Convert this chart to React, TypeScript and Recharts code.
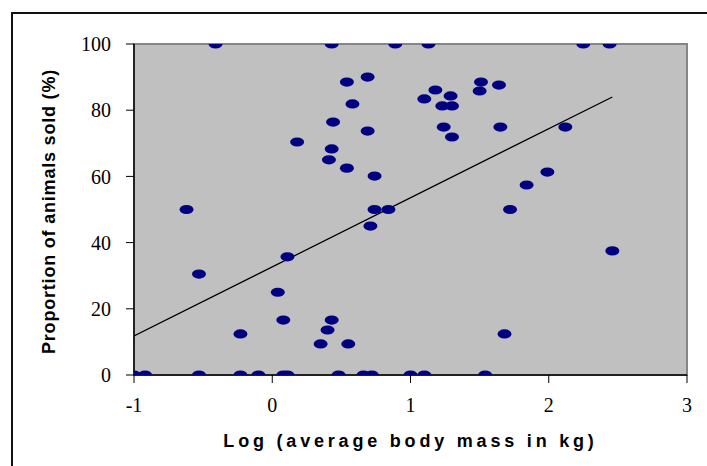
import React from 'react';
import {
  ScatterChart,
  Scatter,
  XAxis,
  YAxis,
  ReferenceArea,
} from 'recharts';

// log10 of average body mass (kg) for each animal group
const logMass = [
  -1.0, -0.92, -0.53, -0.23, -0.1, 0.08, 0.11, 0.48, 0.66, 0.72, 1.0, 1.1, 1.54,
  -0.53, 0.04, -0.23, 0.08, 0.11, 0.43, 0.4, 0.35, 0.55, 1.68, 2.46,
  -0.41, 0.43, -0.62, 0.18, 0.43, 0.41, 0.54, 0.44, 0.54, 0.58,
  0.89, 1.13, 2.25, 2.44, 0.69, 0.69, 0.74, 0.74, 0.84, 0.71,
  1.1, 1.18, 1.29, 1.23, 1.3, 1.24, 1.3, 1.51, 1.5, 1.64, 1.65, 2.12, 1.99, 1.84, 1.72,
];

// % of animals sold, same order as logMass
const pctSold = [
  0, 0, 0, 0, 0, 0, 0, 0, 0, 0, 0, 0, 0,
  30.5, 25, 12.4, 16.6, 35.7, 16.6, 13.6, 9.4, 9.4, 12.4, 37.5,
  100, 100, 50, 70.4, 68.3, 65, 62.5, 76.4, 88.5, 81.9,
  100, 100, 100, 100, 90, 73.7, 60.1, 50, 50, 45,
  83.4, 86.1, 84.3, 81.3, 81.3, 74.9, 71.9, 88.5, 85.8, 87.6, 74.9, 74.9, 61.3, 57.4, 50,
];

// linear trend line end points
const trendX = [-1, 2.46];
const trendY = [11.8, 84];

const xTicks = [-1, 0, 1, 2, 3];
const yTicks = [0, 20, 40, 60, 80, 100];

const points = logMass.map((x, i) => ({ x, y: pctSold[i] }));
const trend = trendX.map((x, i) => ({ x, y: trendY[i] }));

const DOT = '#000080';
const tickStyle = { fontFamily: '"Liberation Serif", "Times New Roman", serif', fontSize: 20, fill: '#000' };

function Ellipse(props: any) {
  const { cx, cy } = props;
  if (cx == null || cy == null) return <g />;
  return <ellipse cx={cx} cy={cy} rx={7} ry={4.6} fill={DOT} />;
}

function YLabel(props: any) {
  const vb = props.viewBox || { x: 30, y: 44, width: 104, height: 331 };
  const x = vb.x + 25;
  const y = vb.y + vb.height / 2 + 2;
  return (
    <text
      x={x}
      y={y}
      transform={`rotate(-90, ${x}, ${y})`}
      textAnchor="middle"
      fontFamily='"Liberation Sans", Arial, sans-serif'
      fontWeight="bold"
      fontSize={18}
      letterSpacing={0.8}
      fill="#000"
    >
      Proportion of animals sold (%)
    </text>
  );
}

function XLabel(props: any) {
  const vb = props.viewBox || { x: 134, y: 375, width: 553, height: 80 };
  return (
    <text
      x={vb.x + vb.width / 2}
      y={vb.y + 72}
      textAnchor="middle"
      fontFamily='"Liberation Sans", Arial, sans-serif'
      fontWeight="bold"
      fontSize={18}
      letterSpacing={3.8}
      fill="#000"
    >
      Log (average body mass in kg)
    </text>
  );
}

export default function App() {
  return (
    <div style={{ position: 'absolute', left: 0, top: 0, width: 707, height: 466, overflow: 'hidden', background: '#fff' }}>
      <div
        style={{
          position: 'absolute',
          left: 11,
          top: 12,
          width: 720,
          height: 480,
          borderLeft: '2px solid #111',
          borderTop: '2px solid #111',
        }}
      />
      <div style={{ position: 'absolute', left: 0, top: 0 }}>
        <ScatterChart width={707} height={466} margin={{ top: 44, right: 20, bottom: 11, left: 30 }}>
          <XAxis
            type="number"
            dataKey="x"
            domain={[-1, 3]}
            ticks={xTicks}
            allowDataOverflow
            height={80}
            tickSize={8}
            tickMargin={15}
            tick={tickStyle}
            axisLine={{ stroke: '#000', strokeWidth: 1.5 }}
            tickLine={{ stroke: '#000' }}
            label={<XLabel />}
          />
          <YAxis
            type="number"
            dataKey="y"
            domain={[0, 100]}
            ticks={yTicks}
            allowDataOverflow
            width={104}
            tickSize={8}
            tickMargin={15}
            tick={tickStyle}
            axisLine={{ stroke: '#000', strokeWidth: 1.5 }}
            tickLine={{ stroke: '#000' }}
            label={<YLabel />}
          />
          <ReferenceArea
            x1={-1}
            x2={3}
            y1={0}
            y2={100}
            fill="#C0C0C0"
            fillOpacity={1}
            stroke="#868686"
            strokeWidth={2}
            ifOverflow="visible"
          />
          <Scatter data={trend} line={{ stroke: '#000', strokeWidth: 1.3 }} shape={() => <g />} isAnimationActive={false} />
          <Scatter data={points} shape={<Ellipse />} isAnimationActive={false} />
        </ScatterChart>
      </div>
    </div>
  );
}
